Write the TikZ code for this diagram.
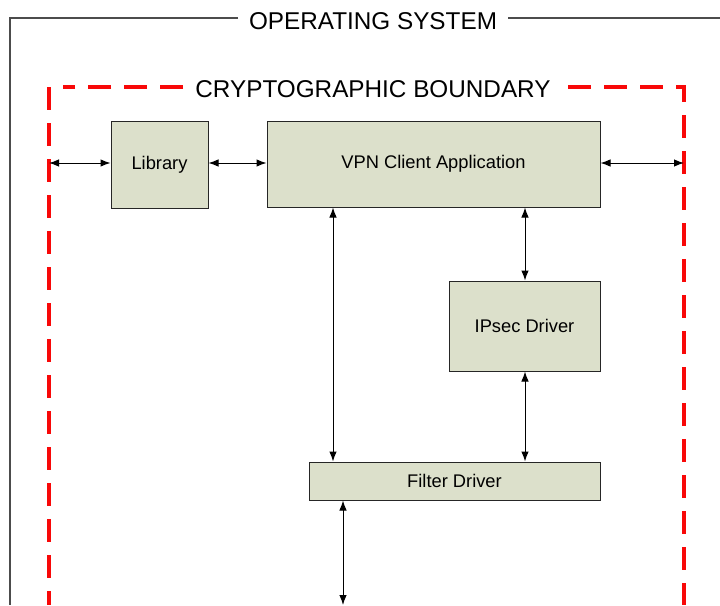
\documentclass[tikz,border=0pt]{standalone}
\usepackage{fontspec}
\setmainfont{Liberation Sans}
\usetikzlibrary{arrows.meta}
\definecolor{boxfill}{HTML}{DCE0CB}
\definecolor{bred}{HTML}{F80808}
\begin{document}
\begin{tikzpicture}[x=1pt,y=-1pt,
  blk/.style={draw=black!85,line width=1pt,fill=boxfill,inner sep=0pt,font=\fontsize{18.3}{20}\selectfont},
  conn/.style={line width=1pt,{Latex[length=10pt,width=7.5pt]}-{Latex[length=10pt,width=7.5pt]}},
  frame/.style={draw=black!70,line width=1.3pt},
  bound/.style={draw=bred,line width=3.2pt,dash pattern=on 23pt off 13pt},
  title/.style={font=\fontsize{24.3}{26}\selectfont,inner sep=0pt}]
\useasboundingbox (0,0) rectangle (720,605);
% operating system frame
\node[title] (ostitle) at (373,21) {OPERATING SYSTEM};
\draw[frame] (238,18) -- (10,18) -- (10,605);
\draw[frame] (508,18) -- (722,18);
% cryptographic boundary
\node[title] (cbtitle) at (373,89) {CRYPTOGRAPHIC BOUNDARY};
\draw[bound] (183,87) -- (63,87);
\draw[bound] (49,87) -- (49,605);
\draw[bound] (568,87) -- (684,87) -- (684,605);
\coordinate (bl) at (49,163);
\coordinate (br) at (684,163);
\coordinate (bot) at (343,605);
% blocks
\node[blk,minimum width=97pt,minimum height=87pt] (lib) at (159.5,164.5) {Library};
\node[blk,minimum width=333pt,minimum height=86pt] (vpn) at (433.5,164) {VPN Client Application};
\node[blk,minimum width=151pt,minimum height=90pt] (ips) at (524.5,326) {IPsec Driver};
\node[blk,minimum width=291pt,minimum height=38pt] (flt) at (454.5,481) {Filter Driver};
% connectors
\draw[conn] (bl) -- (lib.west |- bl);
\draw[conn] (lib.east |- bl) -- (vpn.west |- bl);
\draw[conn] (vpn.east |- br) -- (br);
\draw[conn] (vpn.south -| 333,0) -- (flt.north -| 333,0);
\draw[conn] (vpn.south -| 525,0) -- (ips.north -| 525,0);
\draw[conn] (ips.south -| 525,0) -- (flt.north -| 525,0);
\draw[conn] (flt.south -| bot) -- (bot);
\end{tikzpicture}
\end{document}
